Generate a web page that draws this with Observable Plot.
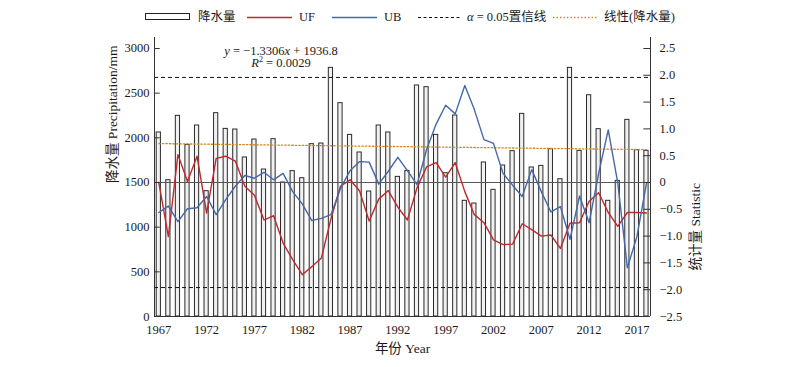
<!DOCTYPE html>
<html><head><meta charset="utf-8">
<script src="https://cdn.jsdelivr.net/npm/d3@7"></script>
<script src="https://cdn.jsdelivr.net/npm/@observablehq/plot@0.6"></script>
<style>
body{margin:0;background:#fff;}
#wrap{position:relative;width:800px;height:367px;font-family:"Liberation Serif","Noto Sans CJK SC",serif;color:#1a1a1a;}
#wrap svg{position:absolute;left:0;top:0;}
.ab{position:absolute;white-space:nowrap;font-size:12.5px;line-height:16px;}
.sw{position:absolute;}
</style></head><body><div id="wrap"></div>
<script>
// ---- data ----
const years = [1967,1968,1969,1970,1971,1972,1973,1974,1975,1976,1977,1978,1979,
  1980,1981,1982,1983,1984,1985,1986,1987,1988,1989,1990,1991,
  1992,1993,1994,1995,1996,1997,1998,1999,2000,2001,2002,2003,2004,
  2005,2006,2007,2008,2009,2010,2011,2012,2013,2014,2015,2016,2017,2018];
const precipitation = [2060,1526,2246,1921,2138,1403,2276,2100,2093,1780,1981,1645,1985,
  1500,1627,1548,1929,1936,2783,2388,2033,1836,1399,2138,2060,
  1563,1630,2586,2567,2033,1604,2250,1295,1265,1724,1418,1690,1851,
  2268,1668,1686,1873,1537,2783,1854,2477,2097,1295,1518,2201,1862,1854];
const UF = [0,-1.01,0.52,0.02,0.49,-0.57,0.45,0.49,0.40,-0.07,-0.24,-0.70,-0.62,
  -1.13,-1.44,-1.72,-1.57,-1.41,-0.68,-0.07,0.05,-0.16,-0.72,-0.31,-0.15,
  -0.46,-0.70,-0.10,0.29,0.37,0.10,0.37,-0.17,-0.60,-0.75,-1.07,-1.16,-1.15,
  -0.77,-0.88,-1.00,-0.98,-1.23,-0.76,-0.75,-0.35,-0.19,-0.56,-0.82,-0.56,-0.56,-0.57];
const UB = [-0.56,-0.44,-0.73,-0.49,-0.47,-0.26,-0.60,-0.32,-0.07,0.13,0.08,0.19,0.05,
  0.17,-0.17,-0.40,-0.71,-0.67,-0.60,-0.11,0.22,0.39,0.38,-0.03,0.21,
  0.47,0.22,-0.04,0.61,1.09,1.44,1.28,1.81,1.36,0.80,0.73,0.17,-0.05,
  -0.26,0.24,-0.17,-0.55,-0.45,-1.06,-0.25,-0.75,0.17,0.98,-0.01,-1.59,-1.01,-0.01];
const trendSlope = -1.3306, trendIntercept = 1936.8, r2 = "0.0029";
const alphaLevel = 1.96;
const xTicks = [1967,1972,1977,1982,1987,1992,1997,2002,2007,2012,2017];
const leftTicks = [0,500,1000,1500,2000,2500,3000];
const rightTicks = [-2.5,-2.0,-1.5,-1.0,-0.5,0,0.5,1.0,1.5,2.0,2.5];

// secondary (statistic) axis mapped onto precipitation axis: -2.5..2.5 -> 0..3000
const toY = s => 1500 + 600 * s;
const fmtR = s => s === 0 ? "0" : (s < 0 ? "\u2212" : "") + Math.abs(s).toFixed(1);

const rows = years.map((year, i) => ({year, p: precipitation[i], uf: UF[i], ub: UB[i]}));
const trend = [0, years.length - 1].map(i => ({year: years[i], y: trendSlope * (i + 1) + trendIntercept}));
const xMin = 1966.55, xMax = 2018.42, yMax = 3123;

const font = '"Liberation Serif","Noto Sans CJK SC",serif';
const axisColor = "#333";

const chart = Plot.plot({
  width: 800, height: 367,
  marginTop: 37, marginBottom: 51, marginLeft: 154, marginRight: 150,
  style: {fontFamily: font, fontSize: "12px", color: "#1a1a1a", background: "transparent"},
  x: {domain: [xMin, xMax], axis: null},
  y: {domain: [0, yMax], axis: null},
  marks: [
    Plot.rectY(rows, {x1: d => d.year - 0.22, x2: d => d.year + 0.22, y1: 0, y2: "p", fill: "#f1f1f1", stroke: "#2a2a2a", strokeWidth: 1}),
    Plot.ruleY([0], {stroke: axisColor}),
    Plot.ruleY([toY(0)], {stroke: "#555", strokeWidth: 1}),
    Plot.ruleY([toY(alphaLevel), toY(-alphaLevel)], {stroke: "#111", strokeDasharray: "4,3", strokeWidth: 1}),
    Plot.line(trend, {x: "year", y: "y", stroke: "#d08a1c", strokeDasharray: "1.5,2", strokeWidth: 1.3}),
    Plot.line(rows, {x: "year", y: d => toY(d.uf), stroke: "#c0282c", strokeWidth: 1.4}),
    Plot.line(rows, {x: "year", y: d => toY(d.ub), stroke: "#4468a8", strokeWidth: 1.4}),
    // axis lines
    Plot.ruleX([xMin, xMax], {y1: 0, y2: yMax, stroke: axisColor}),
    // inward ticks
    Plot.ruleY(leftTicks, {x1: xMin, x2: xMin + 0.6, stroke: axisColor}),
    Plot.ruleY(rightTicks.map(toY), {x1: xMax - 0.7, x2: xMax, stroke: axisColor}),
    Plot.axisY(leftTicks, {anchor: "left", tickSize: 0, tickPadding: 5, label: null, tickFormat: d => String(d), fontSize: 12.5}),
    Plot.axisY(rightTicks.map(toY), {anchor: "right", tickSize: 0, tickPadding: 9, label: null, textAnchor: "start", tickFormat: v => fmtR(Math.round((v - 1500) / 60) / 10), fontSize: 12.5}),
    Plot.axisX(xTicks, {anchor: "bottom", tickSize: 0, tickPadding: 9, label: null, tickFormat: d => String(d), fontSize: 12.5}),
    Plot.text(["降水量 Precipitation/mm"], {frameAnchor: "left", rotate: -90, dx: -42, dy: 6, fontSize: 13.5}),
    Plot.text(["统计量 Statistic"], {frameAnchor: "right", rotate: -90, dx: 45, dy: 6, fontSize: 13.5}),
    Plot.text(["年份 Year"], {frameAnchor: "bottom", dy: 36, fontSize: 13.5})
  ]
});
const wrap = document.getElementById("wrap");
wrap.appendChild(chart);

// legend + equation (HTML overlays)
const legendHTML = `
<svg class="sw" style="left:145px;top:13px" width="46" height="8"><rect x="0.5" y="0.5" width="44" height="6" fill="#fff" stroke="#222"/></svg>
<div class="ab" style="left:198px;top:9px">降水量</div>
<svg class="sw" style="left:247px;top:16px" width="45" height="3"><line x1="0" x2="45" y1="1.5" y2="1.5" stroke="#c0282c" stroke-width="1.5"/></svg>
<div class="ab" style="left:299px;top:9px">UF</div>
<svg class="sw" style="left:332px;top:16px" width="45" height="3"><line x1="0" x2="45" y1="1.5" y2="1.5" stroke="#4468a8" stroke-width="1.5"/></svg>
<div class="ab" style="left:384px;top:9px">UB</div>
<svg class="sw" style="left:418px;top:16px" width="44" height="3"><line x1="0" x2="44" y1="1.5" y2="1.5" stroke="#111" stroke-width="1" stroke-dasharray="3,2.5"/></svg>
<div class="ab" style="left:467px;top:9px"><i>α</i> = 0.05置信线</div>
<svg class="sw" style="left:553px;top:16px" width="44" height="3"><line x1="0" x2="44" y1="1.5" y2="1.5" stroke="#d08a1c" stroke-width="1.3" stroke-dasharray="1.5,2"/></svg>
<div class="ab" style="left:604px;top:9px">线性(降水量)</div>
<div class="ab" style="left:181px;top:46px;width:200px;text-align:center;line-height:11.5px;font-size:12.5px"><i>y</i> = \u22121.3306<i>x</i> + 1936.8<br><i>R</i><sup style="font-size:8px;line-height:0">2</sup> = ${r2}</div>
`;
const ov = document.createElement("div");
ov.innerHTML = legendHTML;
while (ov.firstElementChild) wrap.appendChild(ov.firstElementChild);
</script></body></html>
